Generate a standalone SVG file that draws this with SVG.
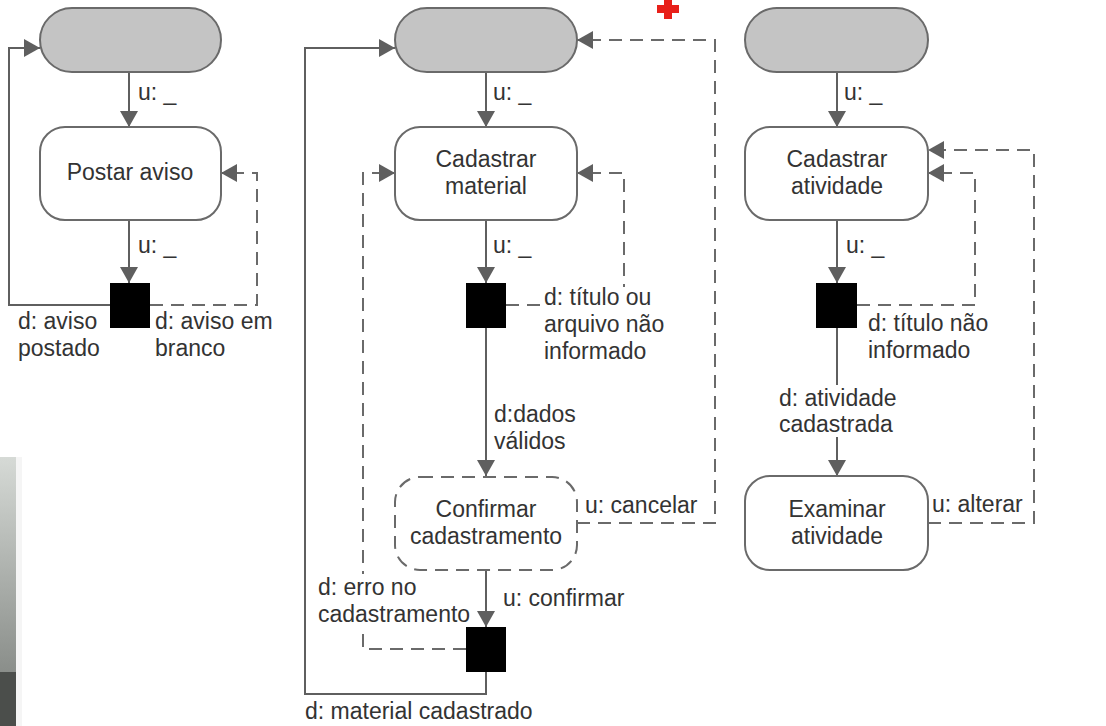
<svg xmlns="http://www.w3.org/2000/svg" width="1106" height="726" viewBox="0 0 1106 726">
<style>
.pill{fill:#c4c4c4;stroke:#6a6a6a;stroke-width:2}
.box{fill:#fff;stroke:#6a6a6a;stroke-width:2}
.dbox{fill:#fff;stroke:#6a6a6a;stroke-width:2;stroke-dasharray:13 8}
.blk{fill:#000}
.ln{fill:none;stroke:#5f5f5f;stroke-width:2}
.ds{fill:none;stroke:#6a6a6a;stroke-width:2;stroke-dasharray:13 8}
.bg{fill:#fff}
text{font-family:"Liberation Sans",Arial,sans-serif;font-size:23px;fill:#333}
.c{text-anchor:middle}
</style>
<defs>
<linearGradient id="strip" x1="0" y1="0" x2="0" y2="1">
<stop offset="0" stop-color="#d6dad6"/>
<stop offset="1" stop-color="#8a8e8a"/>
</linearGradient>
<marker id="ar" markerUnits="userSpaceOnUse" markerWidth="17" markerHeight="18" refX="16" refY="9" orient="auto">
<path d="M0,0 L16,9 L0,18 z" fill="#5f5f5f"/>
</marker>
</defs>

<rect x="0" y="457" width="16" height="215" fill="url(#strip)"/>
<rect x="0" y="672" width="16" height="54" fill="#4b4e4b"/>
<rect x="16" y="457" width="6" height="269" fill="#eeeeee" opacity="0.6"/>
<g id="redcross" fill="#e8201a">
<rect x="664" y="0" width="8" height="19"/>
<rect x="657" y="5" width="22" height="8"/>
</g>

<g id="connectors">
<!-- panel 1 -->
<path class="ln" d="M129,72 V127" marker-end="url(#ar)"/>
<path class="ln" d="M129,220 V283" marker-end="url(#ar)"/>
<path class="ln" d="M110,305 H9 V48 H40" marker-end="url(#ar)"/>
<path class="ds" d="M150,305 H257 V173 H221" marker-end="url(#ar)"/>
<!-- panel 2 -->
<path class="ln" d="M486,72 V127" marker-end="url(#ar)"/>
<path class="ln" d="M486,220 V283" marker-end="url(#ar)"/>
<path class="ds" d="M506,305 H624 V173 H577" marker-end="url(#ar)"/>
<path class="ln" d="M486,328 V476" marker-end="url(#ar)"/>
<path class="ds" d="M577,523 H715 V40 H577" marker-end="url(#ar)"/>
<path class="ln" d="M486,570 V627" marker-end="url(#ar)"/>
<path class="ds" d="M466,649 H363 V173 H395" marker-end="url(#ar)"/>
<path class="ln" d="M486,672 V694 H305 V48 H395" marker-end="url(#ar)"/>
<!-- panel 3 -->
<path class="ln" d="M837,72 V127" marker-end="url(#ar)"/>
<path class="ln" d="M837,220 V283" marker-end="url(#ar)"/>
<path class="ds" d="M857,305 H975 V173 H928" marker-end="url(#ar)"/>
<path class="ln" d="M837,328 V476" marker-end="url(#ar)"/>
<path class="ds" d="M928,523 H1034 V150 H928" marker-end="url(#ar)"/>
</g>

<g id="labels">
<text x="138" y="100">u: _</text>
<text x="138" y="253">u: _</text>
<text x="18" y="329">d: aviso</text>
<text x="18" y="356">postado</text>
<text x="155" y="329">d: aviso em</text>
<text x="155" y="356">branco</text>

<text x="493" y="100">u: _</text>
<text x="493" y="253">u: _</text>
<rect class="bg" x="542" y="287" width="112" height="24"/>
<text x="544" y="305">d: título ou</text>
<text x="544" y="332">arquivo não</text>
<text x="544" y="359">informado</text>
<text x="494" y="422">d:dados</text>
<text x="494" y="449">válidos</text>
<text x="585" y="513">u: cancelar</text>
<rect class="bg" x="316" y="574" width="158" height="54"/>
<text x="318" y="595">d: erro no</text>
<text x="318" y="622">cadastramento</text>
<text x="503" y="606">u: confirmar</text>
<text x="305" y="719">d: material cadastrado</text>

<text x="844" y="100">u: _</text>
<text x="846" y="253">u: _</text>
<text x="868" y="331">d: título não</text>
<text x="868" y="358">informado</text>
<rect class="bg" x="777" y="385" width="124" height="52"/>
<text x="779" y="406">d: atividade</text>
<text x="779" y="432">cadastrada</text>
<text x="932" y="512">u: alterar</text>
</g>

<g id="start1"><rect class="pill" x="40" y="8" width="181" height="64" rx="32"/></g>
<g id="postar"><rect class="box" x="40" y="127" width="181" height="93" rx="25"/><text class="c" x="130" y="180">Postar aviso</text></g>
<g id="dec1"><rect class="blk" x="110" y="283" width="40" height="45"/></g>

<g id="start2"><rect class="pill" x="395" y="8" width="182" height="64" rx="32"/></g>
<g id="cadmat"><rect class="box" x="395" y="127" width="182" height="93" rx="25"/><text class="c" x="486" y="167">Cadastrar</text><text class="c" x="486" y="194">material</text></g>
<g id="dec2"><rect class="blk" x="466" y="283" width="40" height="45"/></g>
<g id="confirmar"><rect class="dbox" x="395" y="477" width="182" height="93" rx="25"/><text class="c" x="486" y="517">Confirmar</text><text class="c" x="486" y="544">cadastramento</text></g>
<g id="dec3"><rect class="blk" x="466" y="627" width="40" height="45"/></g>

<g id="start3"><rect class="pill" x="745" y="8" width="183" height="64" rx="32"/></g>
<g id="cadativ"><rect class="box" x="745" y="127" width="183" height="93" rx="25"/><text class="c" x="837" y="167">Cadastrar</text><text class="c" x="837" y="194">atividade</text></g>
<g id="dec4"><rect class="blk" x="816" y="283" width="41" height="45"/></g>
<g id="examinar"><rect class="box" x="745" y="476" width="183" height="94" rx="25"/><text class="c" x="837" y="517">Examinar</text><text class="c" x="837" y="544">atividade</text></g>
</svg>
